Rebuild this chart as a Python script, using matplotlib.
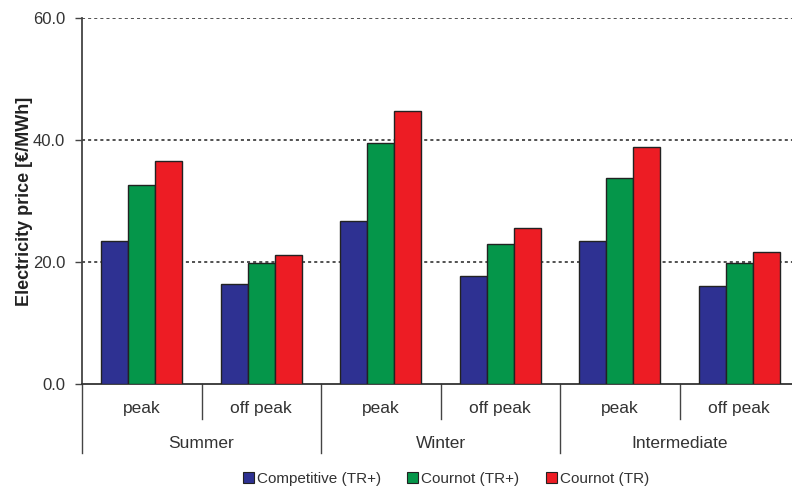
import matplotlib
matplotlib.use("Agg")
import matplotlib.pyplot as plt
from matplotlib.patches import Patch
import matplotlib.transforms as mtransforms

plt.rcParams['font.family'] = ['Liberation Sans', 'DejaVu Sans']

seasons = ["Summer", "Winter", "Intermediate"]
periods = ["peak", "off peak"]
series_names = ["Competitive (TR+)", "Cournot (TR+)", "Cournot (TR)"]
competitive = [23.5, 16.4, 26.7, 17.7, 23.5, 16.0]
cournot_trp = [32.6, 19.9, 39.5, 23.0, 33.7, 19.8]
cournot_tr = [36.5, 21.1, 44.8, 25.5, 38.8, 21.6]
yticks = [0, 20, 40, 60]
colors = ["#2E3192", "#05964A", "#ED1C24"]

W, H = 792, 488
fig = plt.figure(figsize=(W / 100, H / 100), dpi=100)
left, right, top, bottom = 82, 799, 18, 384
ax = fig.add_axes([left / W, 1 - bottom / H, (right - left) / W, (bottom - top) / H])

n = len(seasons) * len(periods)
bw = 0.225
series = [competitive, cournot_trp, cournot_tr]
for k, vals in enumerate(series):
    xs = [i + 0.5 + (k - 1) * bw for i in range(n)]
    ax.bar(xs, vals, width=bw, color=colors[k], edgecolor="#222222",
           linewidth=1.0, zorder=3, label=series_names[k])

ax.set_xlim(0, n)
ax.set_ylim(0, 60)
ax.set_yticks(yticks)
ax.set_yticklabels([f"{v:.1f}" for v in yticks], fontsize=12, color="#333333")
ax.tick_params(axis="y", direction="out", length=5, width=1, color="#444444", pad=7)
ax.set_xticks([])
for v in yticks[1:]:
    ax.axhline(v, color="#222222", linestyle=(0, (2, 2)), linewidth=1.1, zorder=1)

for s in ["top", "right"]:
    ax.spines[s].set_visible(False)
ax.spines["left"].set_color("#444444")
ax.spines["left"].set_linewidth(1.3)
ax.spines["bottom"].set_color("#333333")
ax.spines["bottom"].set_linewidth(1.3)

ax.set_ylabel("Electricity price [€/MWh]", fontsize=13, fontweight="bold",
              color="#222222", labelpad=0)

trans = mtransforms.blended_transform_factory(ax.transData, ax.transAxes)
ah = bottom - top
sub_y = -(409 - bottom) / ah
grp_y = -(443 - bottom) / ah
sub_bot = -(419 - bottom) / ah
grp_bot = -(453 - bottom) / ah

for i in range(n):
    ax.text(i + 0.5, sub_y, periods[i % 2], transform=trans, ha="center",
            va="center", fontsize=12.5, color="#333333")
for g, name in enumerate(seasons):
    ax.text(2 * g + 1, grp_y, name, transform=trans, ha="center", va="center",
            fontsize=12.5, color="#333333")
for b in range(n + 1):
    ybot = grp_bot if b % 2 == 0 else sub_bot
    ax.plot([b, b], [0, ybot], transform=trans, color="#444444", linewidth=1.0,
            clip_on=False)

handles = [Patch(facecolor=colors[k], edgecolor="#222222", linewidth=0.8,
                 label=series_names[k]) for k in range(3)]
fig.legend(handles=handles, loc="center", bbox_to_anchor=(446 / W, 1 - 479 / H),
           ncol=3, frameon=False, fontsize=11, handlelength=0.72,
           handleheight=0.78, handletextpad=0.2, columnspacing=1.7,
           borderpad=0, labelcolor="#333333")

fig.savefig("out.png", dpi=100)
